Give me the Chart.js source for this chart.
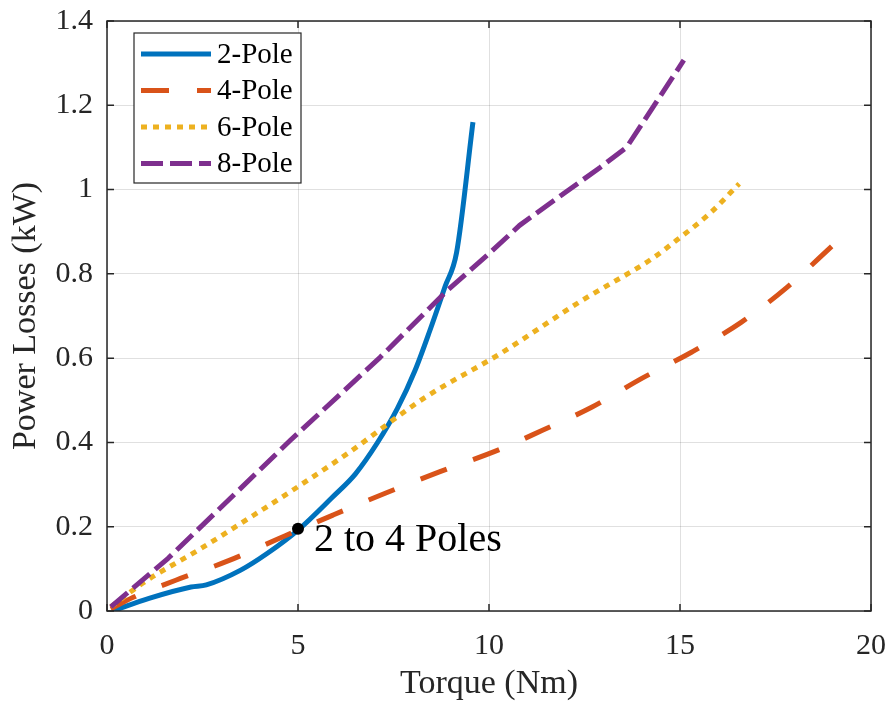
<!DOCTYPE html>
<html>
<head>
<meta charset="utf-8">
<script src="https://cdn.jsdelivr.net/npm/chart.js@4/dist/chart.umd.min.js"></script>
<style>
  html, body { margin: 0; padding: 0; background: #fff; }
  canvas { display: block; }
</style>
</head>
<body>
<canvas id="grafico" width="892" height="706"></canvas>
<script>
// Datos (par torque / pérdidas por serie).
const torque2 = [0.15, 1.1, 2.2, 2.6, 3.5, 4.2, 5, 5.9, 6.5, 7.07, 7.6, 8.06, 8.45, 8.85, 9.15, 9.58];
const loss2 = [0, 0.03, 0.057, 0.062, 0.097, 0.137, 0.192, 0.27, 0.325, 0.398, 0.48, 0.57, 0.665, 0.77, 0.85, 1.16];

const torque4 = [0.1, 0.7, 1.8, 3.2, 4.5, 5, 5.9, 7.3, 8.7, 10.3, 11.4, 12.7, 14.0, 15.3, 16.6, 17.8, 19.05];
const loss4 = [0.005, 0.033, 0.073, 0.12, 0.172, 0.192, 0.227, 0.28, 0.33, 0.384, 0.429, 0.484, 0.552, 0.614, 0.685, 0.768, 0.872];

const torque6 = [0.1, 1, 2.4, 3.8, 5, 6.3, 8.3, 10.3, 12.4, 14.3, 14.9, 15.8, 16.55];
const loss6 = [0.01, 0.07, 0.145, 0.225, 0.295, 0.374, 0.505, 0.611, 0.735, 0.838, 0.879, 0.945, 1.014];

const torque8 = [0.1, 1.6, 4.8, 7.15, 8.9, 10, 10.8, 11.7, 12.9, 13.6, 15.1];
const loss8 = [0.01, 0.125, 0.405, 0.602, 0.76, 0.848, 0.915, 0.974, 1.052, 1.1, 1.307];

const series = ['2-Pole', '4-Pole', '6-Pole', '8-Pole'];
const puntoCambio = { x: 5, y: 0.195 };
const textoCambio = '2 to 4 Poles';

const xTicks = [0, 5, 10, 15, 20];
const yTicks = [0, 0.2, 0.4, 0.6, 0.8, 1, 1.2, 1.4];

const COLORES = {
    azul: '#0072bd',
    naranja: '#d95319',
    amarillo: '#edb120',
    morado: '#7e2f8e',
};

const SERIF = "'Liberation Serif', 'Times New Roman', serif";
const GRIS = '#262626';

function pares(xs, ys) {
    return xs.map((x, i) => ({ x, y: ys[i] }));
}

function linea(label, xs, ys, color, dash, order, suave) {
    return {
        label,
        data: pares(xs, ys),
        borderColor: color,
        backgroundColor: color,
        borderWidth: 5,
        borderDash: dash,
        borderCapStyle: 'butt',
        borderJoinStyle: 'round',
        pointRadius: 0,
        showLine: true,
        cubicInterpolationMode: suave ? 'monotone' : 'default',
        tension: 0,
        order,
    };
}

// Caja de ejes con marcas hacia adentro, leyenda y anotación (estilo MATLAB).
const cajaMatlab = {
    id: 'cajaMatlab',
    afterDraw(chart) {
        const { ctx, chartArea: a, scales } = chart;
        ctx.save();
        ctx.strokeStyle = GRIS;
        ctx.lineWidth = 1.5;
        ctx.strokeRect(a.left, a.top, a.right - a.left, a.bottom - a.top);
        const t = 7;
        ctx.beginPath();
        xTicks.forEach((v) => {
            const px = scales.x.getPixelForValue(v);
            ctx.moveTo(px, a.bottom); ctx.lineTo(px, a.bottom - t);
            ctx.moveTo(px, a.top); ctx.lineTo(px, a.top + t);
        });
        yTicks.forEach((v) => {
            const py = scales.y.getPixelForValue(v);
            ctx.moveTo(a.left, py); ctx.lineTo(a.left + t, py);
            ctx.moveTo(a.right, py); ctx.lineTo(a.right - t, py);
        });
        ctx.stroke();

        // Anotación junto al punto de cambio.
        const dx = scales.x.getPixelForValue(puntoCambio.x);
        const dy = scales.y.getPixelForValue(puntoCambio.y);
        ctx.fillStyle = '#000';
        ctx.font = `40px ${SERIF}`;
        ctx.textBaseline = 'alphabetic';
        ctx.textAlign = 'left';
        ctx.fillText(textoCambio, dx + 16, dy + 22);

        // Leyenda.
        const lx = a.left + 27;
        const ly = a.top + 12;
        ctx.fillStyle = '#fff';
        ctx.fillRect(lx, ly, 167, 150);
        ctx.lineWidth = 1.2;
        ctx.strokeStyle = GRIS;
        ctx.strokeRect(lx, ly, 167, 150);
        ctx.font = `29px ${SERIF}`;
        ctx.textBaseline = 'middle';
        series.forEach((nombre, i) => {
            const ds = chart.data.datasets[i];
            const y = ly + 21 + i * 36.5;
            ctx.save();
            ctx.strokeStyle = ds.borderColor;
            ctx.lineWidth = ds.borderWidth;
            ctx.lineCap = 'butt';
            ctx.setLineDash(ds.borderDash || []);
            ctx.beginPath();
            ctx.moveTo(lx + 7, y);
            ctx.lineTo(lx + 77, y);
            ctx.stroke();
            ctx.restore();
            ctx.fillStyle = '#000';
            ctx.fillText(nombre, lx + 83, y + 1);
        });
        ctx.restore();
    },
};

const ejeFuente = { family: SERIF, size: 30 };
const tituloFuente = { family: SERIF, size: 34 };
const gridColor = 'rgba(0, 0, 0, 0.12)';

new Chart(document.getElementById('grafico'), {
    type: 'scatter',
    data: {
        datasets: [
            linea(series[0], torque2, loss2, COLORES.azul, [], 4, true),
            linea(series[1], torque4, loss4, COLORES.naranja, [28, 28], 3, true),
            linea(series[2], torque6, loss6, COLORES.amarillo, [6, 6], 2, true),
            linea(series[3], torque8, loss8, COLORES.morado, [22, 7], 1, false),
            {
                label: textoCambio,
                data: [puntoCambio],
                pointRadius: 6,
                pointBackgroundColor: '#000',
                pointBorderWidth: 0,
                showLine: false,
                order: 0,
            },
        ],
    },
    options: {
        responsive: false,
        animation: false,
        layout: { padding: { top: 21, right: 21, left: 0, bottom: 0 } },
        plugins: { legend: { display: false }, tooltip: { enabled: false } },
        scales: {
            x: {
                type: 'linear',
                min: 0,
                max: 20,
                afterBuildTicks: (s) => { s.ticks = xTicks.map((v) => ({ value: v })); },
                afterFit: (s) => {
                    s.height = 95;
                    s.paddingLeft = 0;
                    s.paddingRight = 0;
                },
                ticks: { font: ejeFuente, color: GRIS, padding: 17, maxRotation: 0, callback: (v) => String(v) },
                grid: { color: gridColor, drawTicks: false },
                border: { display: false },
                title: {
                    display: true,
                    text: 'Torque (Nm)',
                    font: tituloFuente,
                    color: GRIS,
                    padding: { top: 0, bottom: 2 },
                },
            },
            y: {
                type: 'linear',
                min: 0,
                max: 1.4,
                afterBuildTicks: (s) => { s.ticks = yTicks.map((v) => ({ value: v })); },
                afterFit: (s) => {
                    s.width = 107;
                    s.paddingTop = 0;
                    s.paddingBottom = 0;
                },
                ticks: { font: ejeFuente, color: GRIS, padding: 14, callback: (v) => String(v) },
                grid: { color: gridColor, drawTicks: false },
                border: { display: false },
                title: {
                    display: true,
                    text: 'Power Losses (kW)',
                    font: tituloFuente,
                    color: GRIS,
                    padding: { top: 6, bottom: 0 },
                },
            },
        },
    },
    plugins: [cajaMatlab],
});
</script>
</body>
</html>
